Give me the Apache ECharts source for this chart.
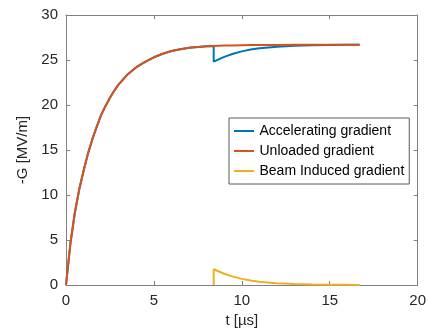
<!DOCTYPE html>
<html>
<head>
<meta charset="utf-8">
<script src="https://cdn.jsdelivr.net/npm/echarts@6/dist/echarts.min.js"></script>
<style>html,body{margin:0;padding:0;background:#fff}#c{width:429px;height:333px}</style>
</head>
<body>
<div id="c"></div>
<script>
// time [us]
var tUnloaded = [0,0.25,0.5,0.75,1,1.25,1.5,1.75,2,2.25,2.5,2.75,3,3.5,4,4.5,5,5.5,6,6.5,7,7.5,8,8.4,9,9.5,10,10.5,11,11.5,12,13,14,15,16,16.7];
var unloaded  = [0,4.6,8.0,10.6,12.7,14.6,16.2,17.6,18.9,19.9,20.8,21.6,22.3,23.4,24.2,24.8,25.3,25.7,26.0,26.2,26.35,26.45,26.52,26.56,26.6,26.62,26.64,26.655,26.67,26.675,26.68,26.69,26.7,26.7,26.7,26.7];
var tBeam = [8.4,8.4,9,9.5,10,10.5,11,11.5,12,13,14,15,16,16.7];
var beam  = [0,1.75,1.25,0.93,0.68,0.5,0.37,0.28,0.2,0.11,0.06,0.03,0.015,0.01];
var tAccel = [0,0.25,0.5,0.75,1,1.25,1.5,1.75,2,2.25,2.5,2.75,3,3.5,4,4.5,5,5.5,6,6.5,7,7.5,8,8.4,8.4,9,9.5,10,10.5,11,11.5,12,13,14,15,16,16.7];
var accel  = [0,4.6,8.0,10.6,12.7,14.6,16.2,17.6,18.9,19.9,20.8,21.6,22.3,23.4,24.2,24.8,25.3,25.7,26.0,26.2,26.35,26.45,26.52,26.56,24.81,25.35,25.69,25.96,26.16,26.3,26.4,26.48,26.58,26.64,26.67,26.685,26.69];
var xTicks = [0,5,10,15,20];
var yTicks = [0,5,10,15,20,25,30];
var names = ['Accelerating gradient','Unloaded gradient','Beam Induced gradient'];

function pairs(xs, ys){ return xs.map(function(x,i){ return [x, ys[i]]; }); }

var font = "'Liberation Sans', Arial, Helvetica, sans-serif";
var axisCol = '#808080';
var txtCol = '#262626';
var lineIcon = 'path://M0,0H40V4H0Z';

var chart = echarts.init(document.getElementById('c'), null, {renderer:'canvas'});
chart.setOption({
  animation:false,
  backgroundColor:'#fff',
  textStyle:{fontFamily:font},
  grid:{left:66,right:8,top:15,bottom:48,containLabel:false},
  legend:{
    data:names.map(function(n){ return {name:n, icon:lineIcon}; }),
    orient:'vertical',
    left:229, top:118,
    itemWidth:21, itemHeight:2, itemGap:4, itemTextGap:8,
    padding:[5,5,5,5],
    borderColor:'#5a5a5a', borderWidth:1, backgroundColor:'#fff',
    textStyle:{fontFamily:font,fontSize:14,color:'#000',lineHeight:16}
  },
  xAxis:[{
    type:'value', min:0, max:20, interval:5,
    name:'t [µs]', nameLocation:'middle', nameGap:26,
    nameTextStyle:{fontFamily:font,fontSize:15,color:txtCol},
    axisLine:{show:true,onZero:false,lineStyle:{color:axisCol,width:1}},
    axisTick:{show:true,inside:true,length:4,lineStyle:{color:axisCol}},
    axisLabel:{fontFamily:font,fontSize:15,color:txtCol,margin:8,
      formatter:function(v){ return xTicks.indexOf(v)>=0 ? String(v) : ''; }},
    splitLine:{show:false}
  },{
    type:'value', min:0, max:20, interval:5, position:'top',
    axisLine:{show:true,onZero:false,lineStyle:{color:axisCol,width:1}},
    axisTick:{show:true,inside:true,length:4,lineStyle:{color:axisCol}},
    axisLabel:{show:false}, splitLine:{show:false}
  }],
  yAxis:[{
    type:'value', min:0, max:30, interval:5,
    name:'-G [MV/m]', nameLocation:'middle', nameGap:32,
    nameTextStyle:{fontFamily:font,fontSize:15,color:txtCol},
    axisLine:{show:true,onZero:false,lineStyle:{color:axisCol,width:1}},
    axisTick:{show:true,inside:true,length:4,lineStyle:{color:axisCol}},
    axisLabel:{fontFamily:font,fontSize:15,color:txtCol,margin:8,
      formatter:function(v){ return yTicks.indexOf(v)>=0 ? String(v) : ''; }},
    splitLine:{show:false}
  },{
    type:'value', min:0, max:30, interval:5, position:'right',
    axisLine:{show:true,onZero:false,lineStyle:{color:axisCol,width:1}},
    axisTick:{show:true,inside:true,length:4,lineStyle:{color:axisCol}},
    axisLabel:{show:false}, splitLine:{show:false}
  }],
  series:[
    {name:names[0],type:'line',data:pairs(tAccel,accel),symbol:'none',smooth:false,
     lineStyle:{color:'#0072BD',width:2},itemStyle:{color:'#0072BD'}},
    {name:names[1],type:'line',data:pairs(tUnloaded,unloaded),symbol:'none',smooth:false,
     lineStyle:{color:'#D95319',width:2},itemStyle:{color:'#D95319'}},
    {name:names[2],type:'line',data:pairs(tBeam,beam),symbol:'none',smooth:false,
     lineStyle:{color:'#EDB120',width:2},itemStyle:{color:'#EDB120'}}
  ]
});
</script>
</body>
</html>
